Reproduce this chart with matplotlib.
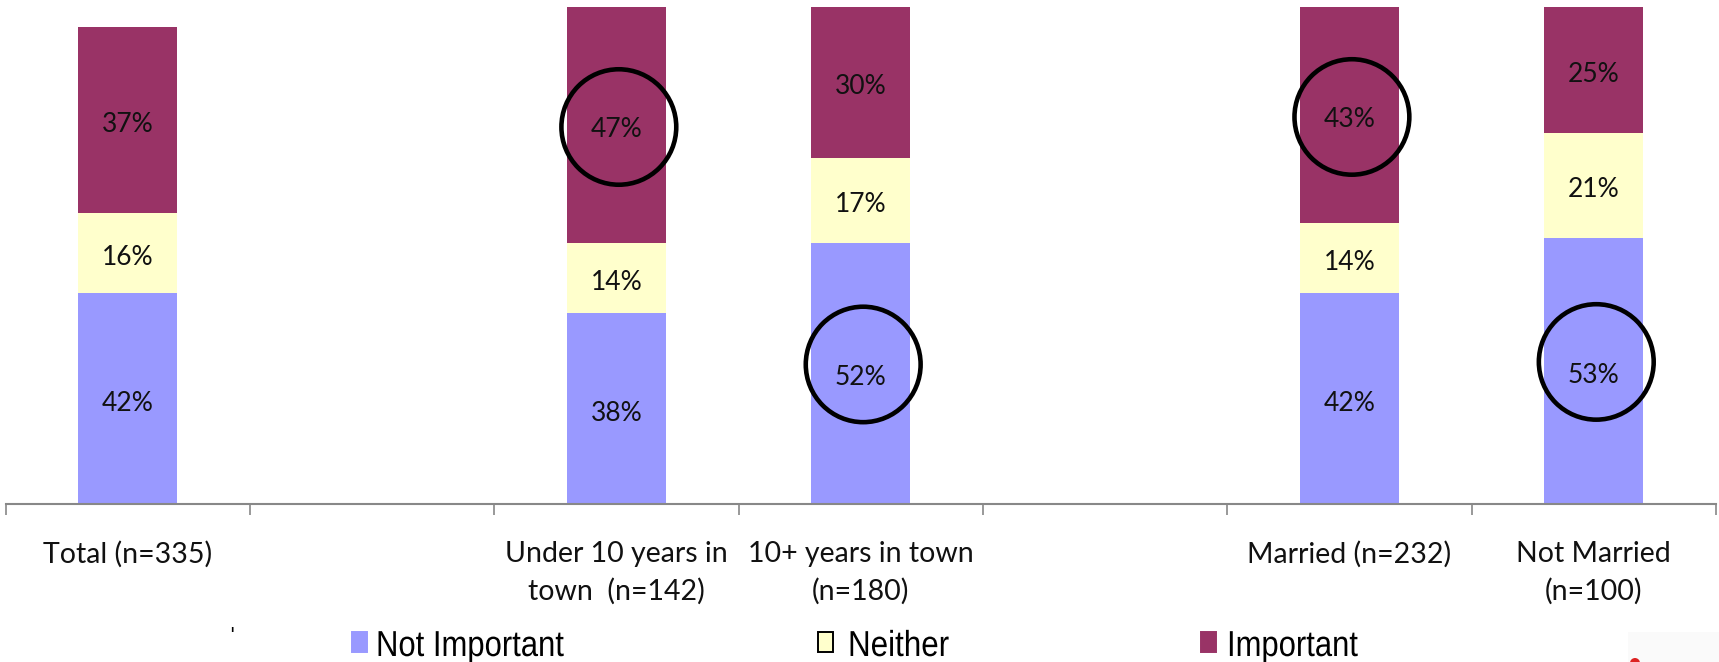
import matplotlib
matplotlib.use("Agg")
import matplotlib.pyplot as plt
from matplotlib.patches import Ellipse, Rectangle
from matplotlib.patheffects import AbstractPathEffect
from matplotlib.transforms import Affine2D
import numpy as np

categories = ["Total (n=335)", "", "Under 10 years in\ntown  (n=142)", "10+ years in town\n(n=180)",
              "", "Married (n=232)", "Not Married\n(n=100)"]
not_important = [42, None, 38, 52, None, 42, 53]
neither = [16, None, 14, 17, None, 14, 21]
important = [37, None, 47, 30, None, 43, 25]
series_names = ["Not Important", "Neither", "Important"]
colors = ["#9999FF", "#FFFFCC", "#993366"]
# (category index, series index) of circled labels
circled = [(2, 2), (3, 0), (5, 2), (6, 0)]

FONT = "Lato"
W, H = 1719, 662
fig = plt.figure(figsize=(W / 100, H / 100), dpi=100)
ax = fig.add_axes([5.5 / W, 158 / H, (1716 - 5.5) / W, (504 - 2) / H])
n = len(categories)
x = np.arange(n)
ax.set_xlim(-0.5, n - 0.5)
ax.set_ylim(0, 100)

series = [not_important, neither, important]
bottoms = np.zeros(n)
centers = {}
for si, (vals, col) in enumerate(zip(series, colors)):
    v = np.array([0 if a is None else a for a in vals], dtype=float)
    ax.bar(x, v, bottom=bottoms, width=0.405, color=col, edgecolor="none", zorder=2)
    for i in range(n):
        if vals[i] is not None:
            cy = bottoms[i] + v[i] / 2
            centers[(i, si)] = cy
            ax.text(x[i], cy - 0.9, f"{vals[i]}%", ha="center", va="center",
                    fontsize=19, family=FONT, color="#111111", zorder=4)
    bottoms += v

for (ci, si) in circled:
    cy = centers[(ci, si)]
    if si == 0:
        cy += 1.8
    else:
        cy -= 0.4
    ax.add_patch(Ellipse((x[ci] + 0.01, cy), width=0.47, height=23.0, fill=False,
                         edgecolor="black", linewidth=3.3, zorder=5, clip_on=False))

for s in ["top", "right", "left"]:
    ax.spines[s].set_visible(False)
ax.spines["bottom"].set_color("#888888")
ax.spines["bottom"].set_linewidth(1.5)
ax.set_yticks([])
ax.set_xticks(np.arange(-0.5, n, 1.0))
ax.set_xticklabels([])
ax.tick_params(axis="x", length=8, width=1.2, color="#888888")
for i, lab in enumerate(categories):
    if lab:
        ax.text(x[i], -7.4, lab, ha="center", va="top", fontsize=20.5, family=FONT,
                linespacing=1.5, color="#111111", transform=ax.transData, clip_on=False)


# legend drawn manually in figure pixels
def fx(px):
    return px / W


def fy(py):
    return 1 - py / H


class HScale(AbstractPathEffect):
    """Compress text horizontally about its left anchor (narrow legend font)."""
    def __init__(self, sx, x0):
        super().__init__()
        self.sx = sx
        self.x0 = x0

    def draw_path(self, renderer, gc, tpath, affine, rgbFace=None):
        tr = affine + Affine2D().translate(-self.x0, 0).scale(self.sx, 1).translate(self.x0, 0)
        renderer.draw_path(gc, tpath, tr, rgbFace)


leg_items = [(352, 376, 188), (818, 848, 101), (1201, 1227, 131)]
leg_texts = []
for (mx, tx, tw), name, col in zip(leg_items, series_names, colors):
    ec = "black" if col == "#FFFFCC" else col
    fig.patches.append(Rectangle((fx(mx), fy(652)), 15 / W, 20 / H, transform=fig.transFigure,
                                 facecolor=col, edgecolor=ec, linewidth=1.4))
    t = fig.text(fx(tx), fy(656), name, ha="left", va="baseline", fontsize=26,
                 family=["Liberation Sans", "DejaVu Sans"], color="black")
    leg_texts.append((t, tx, tw))

fig.canvas.draw()
r = fig.canvas.get_renderer()
for t, tx, tw in leg_texts:
    w = t.get_window_extent(r).width
    t.set_path_effects([HScale(tw / w, tx)])

fig.text(fx(232), fy(636), "'", ha="center", va="center", fontsize=14, color="black")
fig.patches.append(Rectangle((fx(1628), 0), 91 / W, 30 / H, transform=fig.transFigure,
                             facecolor="#FAFAFA", edgecolor="none"))
fig.patches.append(Ellipse((fx(1635), fy(663)), 10 / W, 10 / H, transform=fig.transFigure,
                           facecolor="#DD2222", edgecolor="none"))

fig.savefig("out.png", dpi=100, facecolor="white")
